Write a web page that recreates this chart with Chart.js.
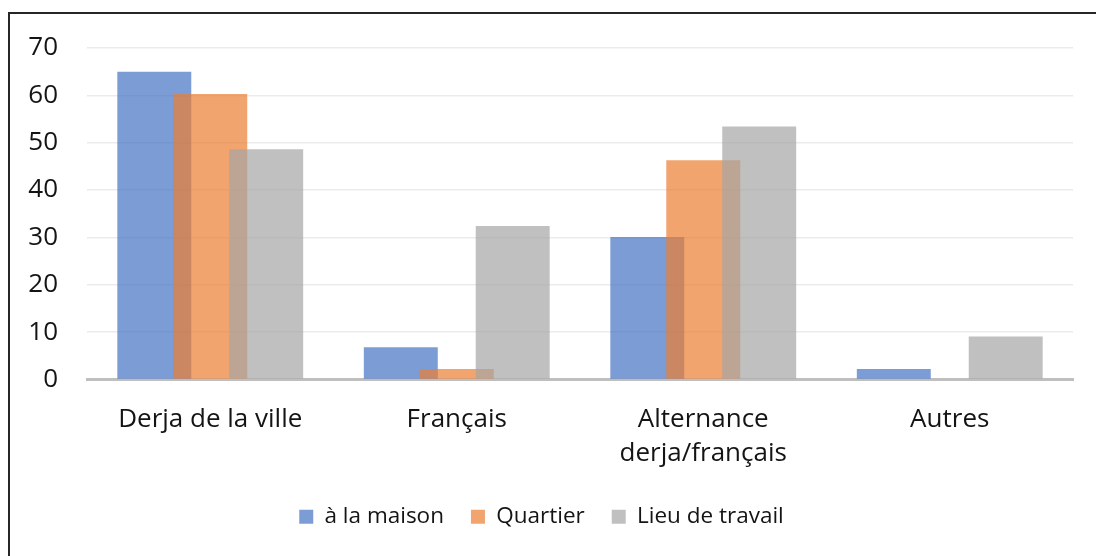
<!DOCTYPE html>
<html>
<head>
<meta charset="utf-8">
<script src="https://cdn.jsdelivr.net/npm/chart.js@4"></script>
<style>
  html, body { margin: 0; padding: 0; background: #fff; overflow: hidden; }
  #frame {
    position: absolute; left: 8px; top: 12px;
    width: 1100px; height: 600px;
    border: 2px solid #262626;
  }
  #wrap { position: absolute; left: 0; top: 0; width: 1086px; height: 542px; }
</style>
</head>
<body>
<div id="frame"><div id="wrap"><canvas id="chart"></canvas></div></div>
<script>
// Chart data
const categories = ['Derja de la ville', 'Français', ['Alternance', 'derja/français'], 'Autres'];
const seriesNames = ['à la maison', 'Quartier', 'Lieu de travail'];
const homeValues = [65, 6.8, 30.1, 2.2];
const districtValues = [60.3, 2.2, 46.3, 0];
const workValues = [48.6, 32.4, 53.4, 9.1];
const yTicks = [0, 10, 20, 30, 40, 50, 60, 70];

const fillColors = ['rgba(68, 114, 196, 0.7)', 'rgba(237, 125, 49, 0.7)', 'rgba(165, 165, 165, 0.7)'];
const legendColors = ['rgb(124, 156, 214)', 'rgb(242, 164, 111)', 'rgb(192, 192, 192)'];
const textColor = '#141414';
const fontFamily = '"Open Sans", "Noto Sans", sans-serif';

// Excel-style overlapping bars: shift each series sideways from the category centre
const overlapBars = {
    id: 'overlapBars',
    afterDatasetsUpdate(chart) {
        const xScale = chart.scales.x;
        const catWidth = (xScale.right - xScale.left) / chart.data.labels.length;
        const step = catWidth * 0.227;
        const count = chart.data.datasets.length;
        chart.data.datasets.forEach((ds, i) => {
            const meta = chart.getDatasetMeta(i);
            const shift = (i - (count - 1) / 2) * step;
            meta.data.forEach(bar => { bar.x += shift; });
        });
    }
};

const values = [homeValues, districtValues, workValues];

new Chart(document.getElementById('chart'), {
    type: 'bar',
    data: {
        labels: categories,
        datasets: seriesNames.map((name, i) => ({
            label: name,
            data: values[i],
            backgroundColor: fillColors[i],
            borderWidth: 0,
            grouped: false,
            categoryPercentage: 1,
            barPercentage: 0.30,
            order: 3 - i
        }))
    },
    options: {
        responsive: true,
        maintainAspectRatio: false,
        animation: false,
        layout: { autoPadding: false, padding: { left: 0, right: 23, top: 34, bottom: 18 } },
        plugins: {
            tooltip: { enabled: false },
            legend: {
                position: 'bottom',
                labels: {
                    boxWidth: 14,
                    boxHeight: 14,
                    padding: 27,
                    color: textColor,
                    font: { family: fontFamily, size: 22.5 },
                    generateLabels: chart => chart.data.datasets.map((ds, i) => ({
                        text: ds.label,
                        fillStyle: legendColors[i],
                        strokeStyle: legendColors[i],
                        lineWidth: 0,
                        datasetIndex: i,
                        fontColor: textColor
                    }))
                }
            }
        },
        scales: {
            x: {
                grid: { display: false },
                border: { color: '#BFBFBF', width: 3 },
                ticks: {
                    color: textColor,
                    padding: 15,
                    maxRotation: 0,
                    autoSkip: false,
                    font: { family: fontFamily, size: 26, lineHeight: 1.3 }
                },
                afterFit: scale => { scale.height = 99; }
            },
            y: {
                min: 0,
                max: 70,
                afterBuildTicks: scale => { scale.ticks = yTicks.map(v => ({ value: v })); },
                grid: { color: '#EBEBEB', lineWidth: 1.5, drawTicks: true, tickLength: 29, tickColor: 'rgba(0,0,0,0)' },
                border: { display: false },
                ticks: {
                    color: textColor,
                    padding: 0,
                    font: { family: fontFamily, size: 26 }
                },
                afterFit: scale => { scale.width = 77; }
            }
        }
    },
    plugins: [overlapBars]
});
</script>
</body>
</html>
